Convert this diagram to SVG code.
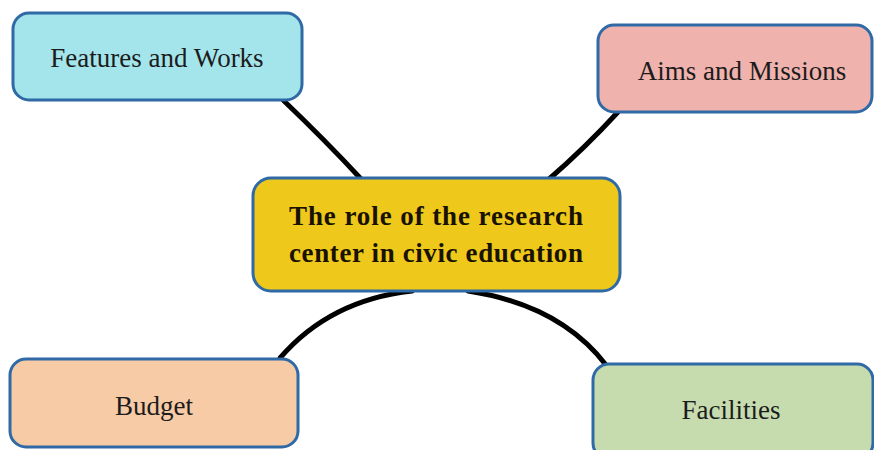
<svg xmlns="http://www.w3.org/2000/svg" width="874" height="450" viewBox="0 0 874 450">
<style>
.box{stroke:#2f6aa6;stroke-width:3}
.lbl{font-family:'Liberation Serif','Times New Roman',serif;font-size:27px;fill:#1c1c1c;text-anchor:middle}
.ctr{font-family:'Liberation Serif','Times New Roman',serif;font-size:27px;font-weight:bold;fill:#1a1200}
.conn{fill:none;stroke:#000;stroke-width:5;stroke-linecap:round}
</style>
<rect width="874" height="450" fill="#fff"/>
<g id="connectors">
<path class="conn" d="M283,100 Q325,140 362,180"/>
<path class="conn" d="M618,112 Q585,148 548,180"/>
<path class="conn" d="M280,358 Q330,300 412,291"/>
<path class="conn" d="M468,291 Q560,305 606,365"/>
</g>
<g id="features">
<rect class="box" x="13" y="13" width="289" height="87" rx="16" fill="#a4e5eb"/>
<text class="lbl" x="157" y="67">Features and Works</text>
</g>
<g id="aims">
<rect class="box" x="598" y="25" width="274" height="87" rx="16" fill="#f0b2ac"/>
<text class="lbl" x="742" y="80">Aims and Missions</text>
</g>
<g id="center">
<rect class="box" x="253" y="178" width="367" height="113" rx="18" fill="#eec91b"/>
<text class="ctr" x="289" y="225" textLength="294" lengthAdjust="spacing">The role of the research</text>
<text class="ctr" x="289" y="262" textLength="294" lengthAdjust="spacing">center in civic education</text>
</g>
<g id="budget">
<rect class="box" x="10" y="359" width="288" height="88" rx="16" fill="#f7cba6"/>
<text class="lbl" x="154" y="415">Budget</text>
</g>
<g id="facilities">
<rect class="box" x="593" y="364" width="280" height="95" rx="16" fill="#c6dcaf"/>
<text class="lbl" x="731" y="419">Facilities</text>
</g>
</svg>
